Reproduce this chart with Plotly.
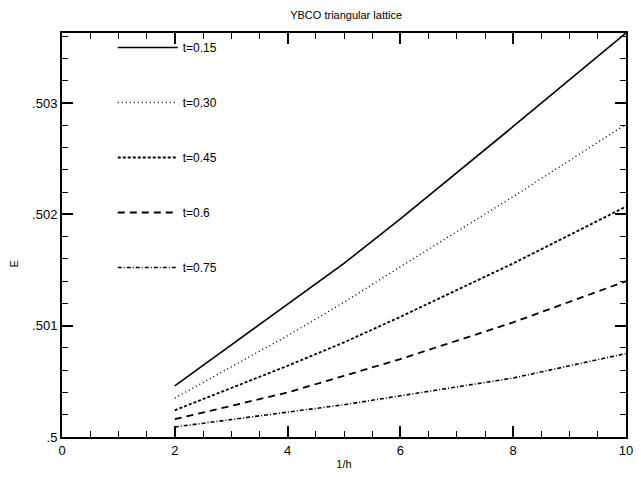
import plotly.graph_objects as go

x_vals = [2, 4, 5, 6, 8, 10]
e_t015 = [0.50046, 0.50119, 0.50156, 0.50196, 0.50279, 0.50363]
e_t030 = [0.50035, 0.50091, 0.50121, 0.50153, 0.50216, 0.50281]
e_t045 = [0.50024, 0.50064, 0.50085, 0.50108, 0.50156, 0.50207]
e_t060 = [0.50016, 0.50040, 0.50055, 0.50070, 0.50103, 0.50140]
e_t075 = [0.50009, 0.50022, 0.50029, 0.50037, 0.50053, 0.50075]

series_names = ["t=0.15", "t=0.30", "t=0.45", "t=0.6", "t=0.75"]
series_vals = [e_t015, e_t030, e_t045, e_t060, e_t075]
dashes = ["solid", "1px,3px", "3px,2px", "7px,5px", "4px,2px,1px,2px"]
widths = [1.6, 1.4, 1.8, 1.8, 1.6]

y_tickvals = [0.5, 0.501, 0.502, 0.503]
y_ticktext = [".5", ".501", ".502", ".503"]

FONT = "Liberation Sans, Arial"

fig = go.Figure()
for i, (name, vals) in enumerate(zip(series_names, series_vals)):
    fig.add_trace(go.Scatter(
        x=x_vals, y=vals, mode="lines", name=name, legendgroup=str(i),
        line=dict(color="black", width=widths[i], dash=dashes[i]),
    ))

axis_common = dict(
    showline=True, linecolor="black", linewidth=2, mirror="ticks",
    ticks="inside", tickcolor="black", tickwidth=1.5, ticklen=11,
    showgrid=False, zeroline=False,
    tickfont=dict(family=FONT, size=13, color="black"),
)

fig.update_layout(
    width=641, height=477,
    margin=dict(l=62, r=8, t=33, b=39),
    paper_bgcolor="white", plot_bgcolor="white",
    title=dict(text="YBCO triangular lattice", x=0.54, xanchor="center", y=0.968, yanchor="middle",
               font=dict(family=FONT, size=11, color="black")),
    showlegend=True,
    legend=dict(x=0.09, y=1.0, xanchor="left", yanchor="top",
                bgcolor="rgba(0,0,0,0)", tracegroupgap=36, itemwidth=60,
                font=dict(family=FONT, size=12, color="black")),
    xaxis=dict(range=[0, 10], tickvals=[0, 2, 4, 6, 8, 10],
               minor=dict(dtick=0.5, ticks="inside", ticklen=6, tickcolor="black", tickwidth=1.2),
               title=dict(text="1/h", standoff=4,
                          font=dict(family=FONT, size=11, color="black")),
               **axis_common),
    yaxis=dict(range=[0.5, 0.50363], tickvals=y_tickvals, ticktext=y_ticktext,
               minor=dict(dtick=0.0002, tick0=0.5, ticks="inside", ticklen=6, tickcolor="black", tickwidth=1.2),
               **axis_common),
    annotations=[dict(text="E", xref="paper", yref="paper", x=-0.085, y=0.427,
                      xanchor="center", yanchor="middle", showarrow=False, textangle=-90,
                      font=dict(family=FONT, size=11, color="black"))],
)

fig.write_html("out.html")
